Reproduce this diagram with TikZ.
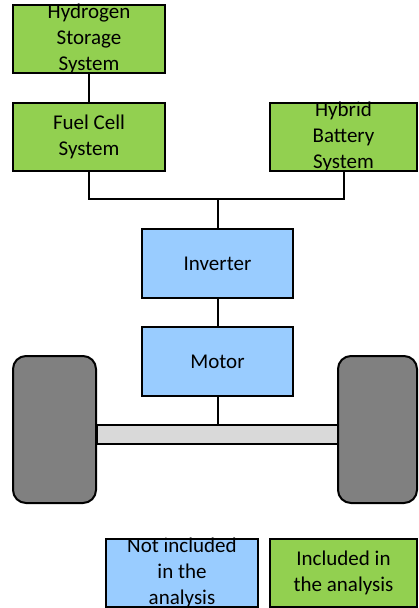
\documentclass[tikz,border=0pt]{standalone}
\usepackage{fontspec}
\setmainfont{Carlito}
\usepackage{tikz}
\usetikzlibrary{positioning,calc}
\definecolor{ink}{HTML}{000000}
\definecolor{incl}{HTML}{92D050}
\definecolor{excl}{HTML}{99CCFF}
\definecolor{tyre}{HTML}{808080}
\definecolor{shaft}{HTML}{D9D9D9}

\begin{document}
\begin{tikzpicture}[x=0.5pt,y=-0.5pt,
  unit/.style={draw=ink,line width=1pt,minimum width=76pt,minimum height=34pt,
    inner sep=0pt},
  green/.style={unit,fill=incl},
  blue/.style={unit,fill=excl},
  txt/.style={align=center,inner sep=0pt,text=ink,
    font=\fontsize{10.5}{13}\selectfont},
  wheel/.style={draw=ink,line width=1pt,fill=tyre,rounded corners=6.5pt,
    minimum width=41.5pt,minimum height=73.5pt,inner sep=0pt},
  wire/.style={draw=ink,line width=1pt}
]
\useasboundingbox (0,0) rectangle (418,608);
% included blocks
\node[green] (h2) at (89,39) {};
\node[green] (fc) at (89,137) {};
\node[green,minimum width=73.5pt] (batt) at (343.5,137) {};
% powertrain
\node[blue,minimum width=75.5pt,minimum height=34.5pt] (inv) at (217.5,263.5) {};
\node[blue,minimum width=75.5pt,minimum height=34.5pt] (mot) at (217.5,361.5) {};
% axle and wheels
\node[draw=ink,line width=1pt,fill=shaft,minimum width=121pt,minimum height=9.5pt,
  inner sep=0pt] (axle) at (217.5,434.5) {};
\node[wheel] (lwheel) at (54.5,429.5) {};
\node[wheel,minimum width=39.5pt] (rwheel) at (377.5,429.5) {};
% legend
\node[blue] (keyno) at (182,573) {};
\node[green,minimum width=73.5pt] (keyyes) at (343.5,573) {};
% texts
\node[txt] (h2txt) at (h2) {Hydrogen\\Storage\\System};
\node[txt] (fctxt) at (fc) {Fuel Cell\\System};
\node[txt] (batttxt) at (batt) {Hybrid\\Battery\\System};
\node[txt] (invtxt) at (inv) {Inverter};
\node[txt] (mottxt) at (mot) {Motor};
\node[txt] (keynotxt) at (keyno) {Not included\\in the\\analysis};
\node[txt] (keyyestxt) at (keyyes) {Included in\\the analysis};
% connectors
\coordinate (bus) at ($(inv.north)+(0,-29)$);
\draw[wire] (h2.south) -- (fc.north);
\draw[wire] (fc.south) |- (bus) -| (batt.south);
\draw[wire] (bus) -- (inv.north);
\draw[wire] (inv.south) -- (mot.north);
\draw[wire] (mot.south) -- (axle.north);
\end{tikzpicture}
\end{document}
